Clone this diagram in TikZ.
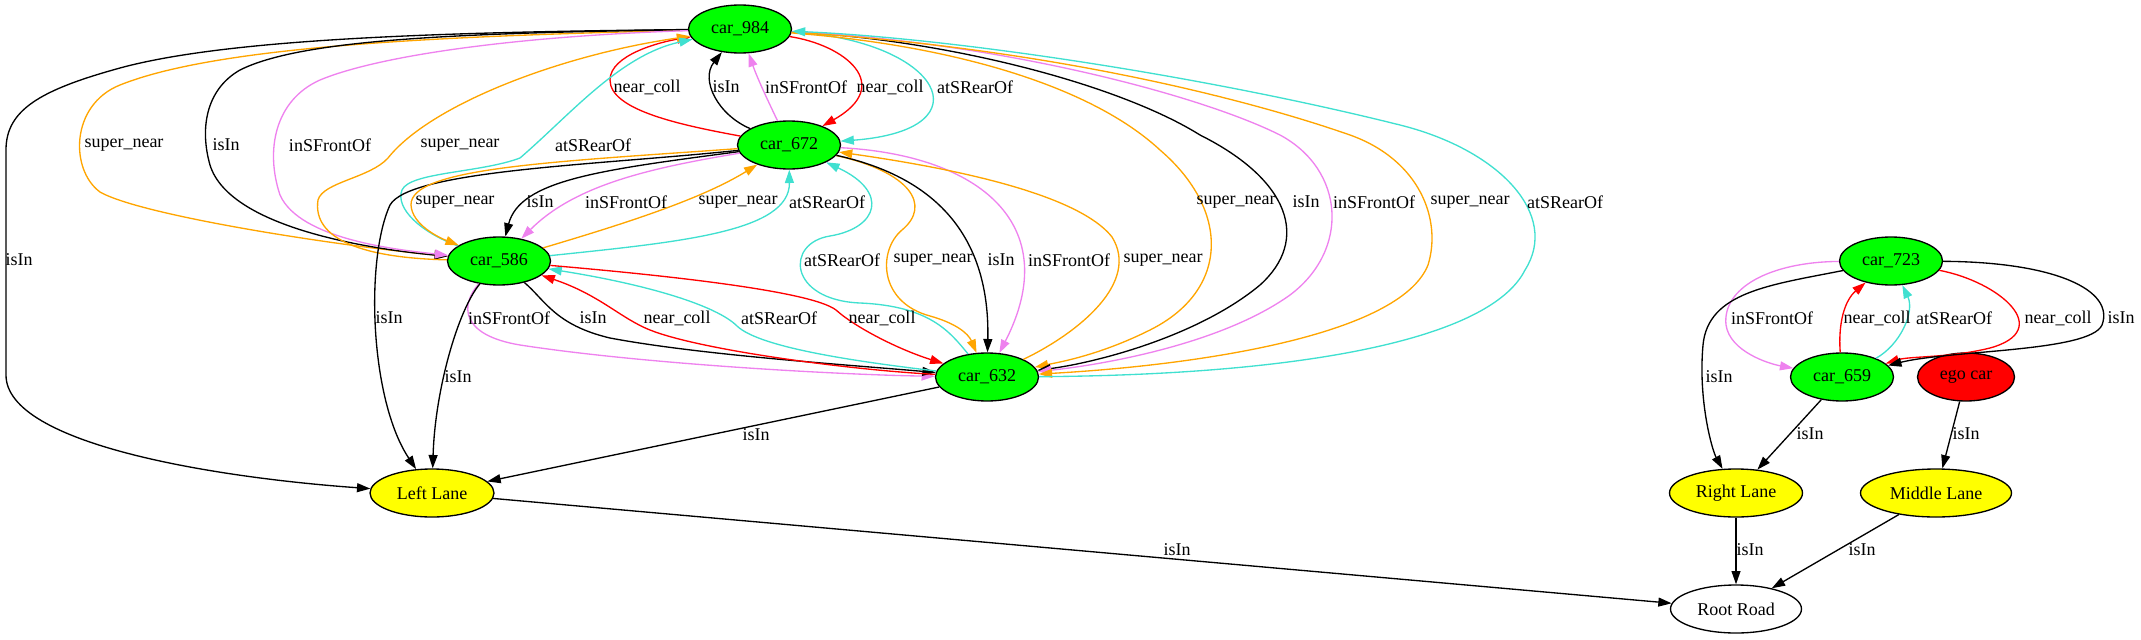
\documentclass[tikz,border=0pt]{standalone}
\usepackage{fontspec}
\setmainfont{Liberation Serif}
\usetikzlibrary{shapes.geometric,arrows.meta}
\definecolor{gvgreen}{HTML}{00FF00}
\definecolor{gvyellow}{HTML}{FFFF00}
\definecolor{gvred}{HTML}{FF0000}
\definecolor{gvorange}{HTML}{FFA500}
\definecolor{gvviolet}{HTML}{EE82EE}
\definecolor{gvturq}{HTML}{40E0D0}
\newcommand{\gvfont}{\fontsize{13.5}{16}\selectfont}
\tikzset{
  gvnode/.style={ellipse, draw, line width=1pt, inner sep=0pt, minimum height=36pt, font=\gvfont},
  car/.style={gvnode, fill=gvgreen, minimum width=77.25pt},
  lane/.style={gvnode, fill=gvyellow},
  road/.style={gvnode, fill=white, minimum width=98.25pt},
  egonode/.style={gvnode, fill=gvred, minimum width=72.75pt},
  lbl/.style={inner sep=0pt, font=\gvfont},
  gv/.style={line width=1pt, -{Triangle[length=10pt,width=6.7pt]}},
  eb/.style={gv, color=black},
  eo/.style={gv, color=gvorange},
  ev/.style={gv, color=gvviolet},
  et/.style={gv, color=gvturq},
  er/.style={gv, color=gvred},
}
\begin{document}
\begin{tikzpicture}[x=0.75pt,y=-0.75pt]
\useasboundingbox (0,0) rectangle (2141,639);
% nodes
\node[car] (c984) at (740,29) {car\_984};
\node[car] (c672) at (789,145) {car\_672};
\node[car] (c586) at (499,261) {car\_586};
\node[car] (c632) at (987,377) {car\_632};
\node[lane, minimum width=93pt] (LL) at (432,493) {Left Lane};
\node[road] (RR) at (1736,609) {Root Road};
\node[car] (c723) at (1891,261) {car\_723};
\node[car] (c659) at (1842,377) {car\_659};
\node[egonode] (ego) at (1966,377) {ego car};
\node[lane, minimum width=99.75pt] (RL) at (1736,493) {Right Lane};
\node[lane, minimum width=113.25pt] (ML) at (1936,493) {Middle Lane};

% car_984 -> left
\draw[eb] (c984) .. controls (450,32) and (230,38) .. (120,68) .. controls (40,90) and (6,110) .. (6,150) -- (6,375) .. controls (6,445) and (220,478) .. (LL);
\draw[eo] (c984) .. controls (450,36) and (220,45) .. (120,85) .. controls (70,105) and (70,170) .. (100,192) .. controls (140,215) and (330,245) .. (c586);
\draw[eb] (c984) .. controls (450,33) and (300,40) .. (240,70) .. controls (205,90) and (200,130) .. (210,165) .. controls (230,230) and (380,250) .. (c586);
\draw[ev] (c984) .. controls (520,36) and (380,55) .. (320,80) .. controls (275,100) and (265,150) .. (280,195) .. controls (300,240) and (400,250) .. (c586);
\draw[er] (c672) .. controls (680,125) and (610,110) .. (610,80) .. controls (610,55) and (660,42) .. (c984);
\draw[eo] (c586) .. controls (365,258) and (312,240) .. (318,200) .. controls (323,182) and (370,178) .. (388,158) .. controls (430,105) and (560,55) .. (c984);
\draw[et] (c586) .. controls (420,232) and (395,208) .. (402,190) .. controls (410,172) and (480,173) .. (520,158) .. controls (570,115) and (620,55) .. (c984);
% car_984 <-> car_672
\draw[eb] (c672) .. controls (718,115) and (700,80) .. (c984);
\draw[ev] (c672) .. controls (770,105) and (758,80) .. (c984);
\draw[er] (c984) .. controls (845,45) and (895,85) .. (c672);
\draw[et] (c984) .. controls (940,40) and (990,130) .. (c672);
% car_984 <-> car_632
\draw[eo] (c984) .. controls (950,45) and (1090,85) .. (1160,150) .. controls (1230,210) and (1230,290) .. (1150,330) .. controls (1100,355) and (1060,362) .. (c632);
\draw[eb] (c984) .. controls (950,40) and (1120,85) .. (1200,135) .. controls (1290,180) and (1310,240) .. (1260,285) .. controls (1200,335) and (1100,362) .. (c632);
\draw[ev] (c984) .. controls (1000,42) and (1200,95) .. (1280,135) .. controls (1345,170) and (1350,250) .. (1290,295) .. controls (1220,345) and (1100,365) .. (c632);
\draw[eo] (c984) .. controls (1050,48) and (1250,100) .. (1350,135) .. controls (1420,160) and (1442,220) .. (1428,265) .. controls (1400,335) and (1200,365) .. (c632);
\draw[et] (c632) .. controls (1300,375) and (1490,340) .. (1525,270) .. controls (1560,215) and (1500,150) .. (1400,125) .. controls (1200,75) and (950,38) .. (c984);
% car_672 -> left
\draw[eb] (c672) .. controls (600,165) and (410,170) .. (390,205) .. controls (365,260) and (370,400) .. (LL);
\draw[eo] (c672) .. controls (550,162) and (410,168) .. (411,205) .. controls (412,225) and (440,238) .. (c586);
\draw[eb] (c672) .. controls (600,170) and (520,180) .. (c586);
\draw[ev] (c672) .. controls (650,168) and (575,185) .. (c586);
\draw[eo] (c586) .. controls (620,225) and (700,200) .. (c672);
\draw[et] (c586) .. controls (680,242) and (790,232) .. (c672);
% car_672 <-> car_632
\draw[et] (c632) .. controls (950,332) and (930,306) .. (860,303) .. controls (788,300) and (785,243) .. (830,236) .. controls (878,228) and (890,192) .. (c672);
\draw[eo] (c672) .. controls (910,172) and (932,205) .. (902,230) .. controls (878,250) and (878,302) .. (930,316) .. controls (955,323) and (968,333) .. (c632);
\draw[eb] (c672) .. controls (940,178) and (990,240) .. (c632);
\draw[ev] (c672) .. controls (980,155) and (1065,225) .. (c632);
\draw[eo] (c632) .. controls (1080,332) and (1140,282) .. (1112,237) .. controls (1075,190) and (930,165) .. (c672);
% car_586 <-> car_632
\draw[ev] (c586) .. controls (460,305) and (460,335) .. (520,345) .. controls (650,365) and (850,375) .. (c632);
\draw[eb] (c586) .. controls (545,300) and (555,325) .. (610,338) .. controls (700,355) and (850,365) .. (c632);
\draw[er] (c632) .. controls (850,370) and (700,350) .. (650,330) .. controls (620,318) and (600,295) .. (c586);
\draw[et] (c632) .. controls (860,362) and (760,348) .. (737,326) .. controls (717,306) and (650,285) .. (c586);
\draw[er] (c586) .. controls (650,274) and (810,290) .. (836,310) .. controls (856,328) and (900,350) .. (c632);
\draw[eb] (c586) .. controls (458,310) and (435,390) .. (LL);
\draw[eb] (c632) -- (LL);
\draw[eb] (LL) -- (RR);
% right cluster
\draw[ev] (c723) .. controls (1770,262) and (1722,288) .. (1726,325) .. controls (1730,352) and (1770,364) .. (c659);
\draw[eb] (c723) .. controls (1770,285) and (1708,292) .. (1703,345) .. controls (1698,400) and (1712,450) .. (RL);
\draw[er] (c659) .. controls (1838,322) and (1845,300) .. (c723);
\draw[et] (c659) .. controls (1900,345) and (1915,312) .. (c723);
\draw[er] (c723) .. controls (2000,282) and (2055,330) .. (1990,348) .. controls (1950,358) and (1910,356) .. (c659);
\draw[eb] (c723) .. controls (2055,262) and (2115,290) .. (2102,325) .. controls (2090,352) and (1950,350) .. (c659);
\draw[eb] (c659) -- (RL);
\draw[eb] (ego) -- (ML);
\draw[eb] (RL) -- (RR);
\draw[eb] (ML) -- (RR);

% labels
\node[lbl] (l1) at (647,87) {near\_coll};
\node[lbl] (l2) at (726,87) {isIn};
\node[lbl] (l3) at (806,87) {inSFrontOf};
\node[lbl] (l4) at (890,87) {near\_coll};
\node[lbl] (l5) at (975,87) {atSRearOf};
\node[lbl] (l6) at (124,145) {super\_near};
\node[lbl] (l7) at (226,145) {isIn};
\node[lbl] (l8) at (330,145) {inSFrontOf};
\node[lbl] (l9) at (460,145) {super\_near};
\node[lbl] (l10) at (593,145) {atSRearOf};
\node[lbl] (l11) at (455,202) {super\_near};
\node[lbl] (l12) at (540,202) {isIn};
\node[lbl] (l13) at (626,202) {inSFrontOf};
\node[lbl] (l14) at (738,202) {super\_near};
\node[lbl] (l15) at (827,202) {atSRearOf};
\node[lbl] (l16) at (1236,202) {super\_near};
\node[lbl] (l17) at (1306,202) {isIn};
\node[lbl] (l18) at (1374,202) {inSFrontOf};
\node[lbl] (l19) at (1470,202) {super\_near};
\node[lbl] (l20) at (1565,202) {atSRearOf};
\node[lbl] (l21) at (19,260) {isIn};
\node[lbl] (l22) at (842,260) {atSRearOf};
\node[lbl] (l23) at (933,260) {super\_near};
\node[lbl] (l24) at (1001,260) {isIn};
\node[lbl] (l25) at (1069,260) {inSFrontOf};
\node[lbl] (l26) at (1163,260) {super\_near};
\node[lbl] (l27) at (389,318) {isIn};
\node[lbl] (l28) at (509,318) {inSFrontOf};
\node[lbl] (l29) at (593,318) {isIn};
\node[lbl] (l30) at (677,318) {near\_coll};
\node[lbl] (l31) at (779,318) {atSRearOf};
\node[lbl] (l32) at (882,318) {near\_coll};
\node[lbl] (l33) at (1772,318) {inSFrontOf};
\node[lbl] (l34) at (1877,318) {near\_coll};
\node[lbl] (l35) at (1954,318) {atSRearOf};
\node[lbl] (l36) at (2058,318) {near\_coll};
\node[lbl] (l37) at (2121,318) {isIn};
\node[lbl] (l38) at (458,377) {isIn};
\node[lbl] (l39) at (1719,377) {isIn};
\node[lbl] (l40) at (756,435) {isIn};
\node[lbl] (l41) at (1810,434) {isIn};
\node[lbl] (l42) at (1966,434) {isIn};
\node[lbl] (l43) at (1177,550) {isIn};
\node[lbl] (l44) at (1750,550) {isIn};
\node[lbl] (l45) at (1862,550) {isIn};
\end{tikzpicture}
\end{document}
